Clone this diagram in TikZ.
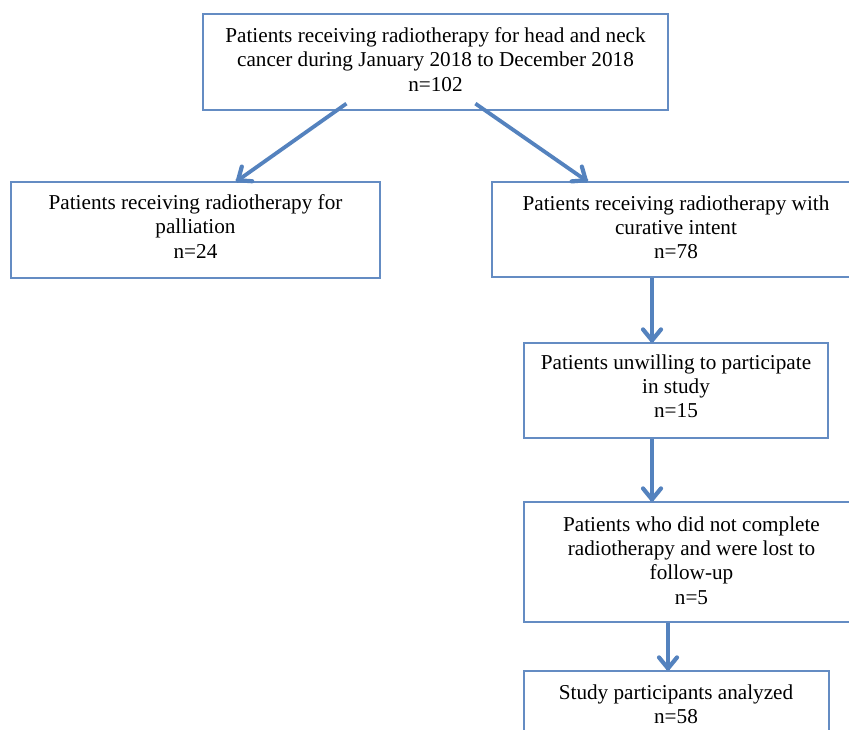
\documentclass[tikz,border=0pt]{standalone}
\usepackage{fontspec}
\setmainfont{Liberation Serif}
\usetikzlibrary{calc,decorations.markings}
\definecolor{boxblue}{RGB}{100,140,195}
\definecolor{arrblue}{RGB}{84,130,190}
\begin{document}
\begin{tikzpicture}[x=1pt,y=-1pt,
  box/.style={draw=boxblue,line width=1.2pt,rectangle,inner sep=0pt},
  txt/.style={anchor=north,align=center,inner sep=0pt,font=\fontsize{21.2}{24.2}\selectfont},
  arr/.style={draw=arrblue,line width=3.8pt,
    postaction={decorate,decoration={markings,mark=at position 1 with {
      \draw[arrblue,line width=4.2pt,line cap=round,line join=round] (-13pt,9pt) -- (-2pt,0pt) -- (-13pt,-9pt);}}}}]
\clip (0,0) rectangle (849,729);
\fill[white] (0,0) rectangle (849,729);
% boxes
\node[box,minimum width=465pt,minimum height=96pt] (top) at (435.5,62) {};
\node[box,minimum width=369pt,minimum height=96pt] (left) at (195.5,230) {};
\node[box,minimum width=368pt,minimum height=95pt] (right) at (676,229.5) {};
\node[box,minimum width=304pt,minimum height=95pt] (b4) at (676,390.5) {};
\node[box,minimum width=335pt,minimum height=120pt] (b5) at (691.5,562) {};
\node[box,minimum width=305pt,minimum height=99pt] (b6) at (676.5,720.5) {};
% texts
\node[txt] (t1) at (435.5,27.5) {Patients receiving radiotherapy for head and neck\\cancer during January 2018 to December 2018\\n=102};
\node[txt] (t2) at (195.5,194.5) {Patients receiving radiotherapy for\\palliation\\n=24};
\node[txt] (t3) at (676,195.5) {Patients receiving radiotherapy with\\curative intent\\n=78};
\node[txt] (t4) at (676,354.5) {Patients unwilling to participate\\in study\\n=15};
\node[txt] (t5) at (691.5,516.5) {Patients who did not complete\\radiotherapy and were lost to\\follow-up\\n=5};
\node[txt] (t6) at (676,684.5) {Study participants analyzed\\n=58};
% connectors
\coordinate (c1) at (652,0);
\coordinate (c2) at (668,0);
\draw[arr] ($(top.south west)+(144,-7)$) -- ($(left.north west)+(226,0)$);
\draw[arr] ($(top.south west)+(273,-7)$) -- ($(right.north west)+(96,0)$);
\draw[arr] (right.south -| c1) -- (b4.north -| c1);
\draw[arr] (b4.south -| c1) -- (b5.north -| c1);
\draw[arr] (b5.south -| c2) -- (b6.north -| c2);
\end{tikzpicture}
\end{document}
